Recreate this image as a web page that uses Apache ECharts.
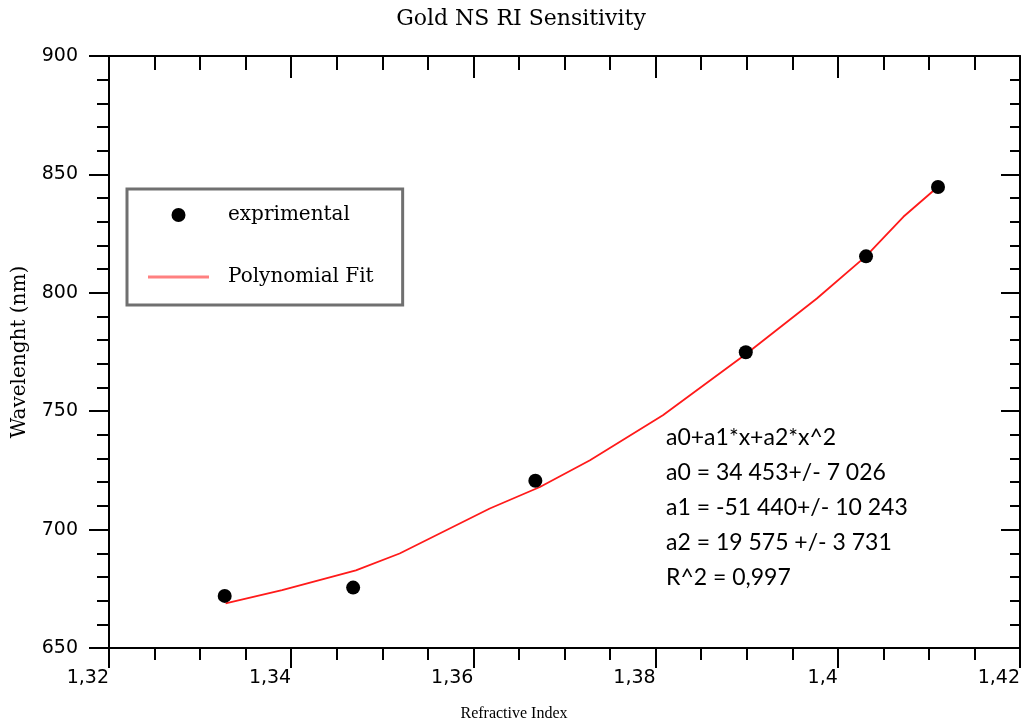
<!DOCTYPE html>
<html>
<head>
<meta charset="utf-8">
<script src="https://cdn.jsdelivr.net/npm/echarts@6/dist/echarts.min.js"></script>
<style>
html,body{margin:0;padding:0;background:#fff;}
#chart{width:1021px;height:725px;}
</style>
</head>
<body>
<div id="chart"></div>
<script>
// ---- data ----
const titleText = 'Gold NS RI Sensitivity';
const xAxisName = 'Refractive Index';
const yAxisName = 'Wavelenght (nm)';
const seriesNames = ['exprimental', 'Polynomial Fit'];

const riExp = [1.3327, 1.3468, 1.3668, 1.3899, 1.4031, 1.4110];
const wlExp = [672.0, 675.5, 720.6, 774.9, 815.4, 844.7];

const riFit = [1.3328, 1.3390, 1.3471, 1.3519, 1.3618, 1.3673, 1.3728, 1.3808, 1.3900, 1.3977, 1.4031, 1.4072, 1.4110];
const wlFit = [668.8, 674.4, 682.8, 689.9, 708.9, 718.0, 729.3, 748.3, 774.4, 797.6, 815.5, 832.1, 844.8];

const xTickValues = [1.32, 1.34, 1.36, 1.38, 1.40, 1.42];
const xTickLabels = ['1,32', '1,34', '1,36', '1,38', '1,4', '1,42'];
const yTickValues = [650, 700, 750, 800, 850, 900];
const yTickLabels = ['650', '700', '750', '800', '850', '900'];

const fitNote = [
  'a0+a1*x+a2*x^2',
  'a0 = 34 453+/- 7 026',
  'a1 = -51 440+/- 10 243',
  'a2 = 19 575 +/- 3 731',
  'R^2 = 0,997'
];

// ---- chart ----
const chart = echarts.init(document.getElementById('chart'), null, {renderer: 'canvas'});

function xLabel(v) {
  let best = 0, bd = Infinity;
  xTickValues.forEach((t, i) => { const d = Math.abs(t - v); if (d < bd) { bd = d; best = i; } });
  return xTickLabels[best];
}
function yLabel(v) {
  const i = yTickValues.indexOf(Math.round(v));
  return i >= 0 ? yTickLabels[i] : '';
}

const axisLine = {show: true, onZero: false, lineStyle: {color: '#000', width: 2}};
const tickFont = {fontFamily: 'DejaVu Sans', fontSize: 19, color: '#000'};

const xBase = {
  type: 'value', min: 1.32, max: 1.42, interval: 0.02,
  axisLine: axisLine, splitLine: {show: false},
  minorTick: {show: true, splitNumber: 4, length: 12, lineStyle: {color: '#000', width: 2}},
  axisTick: {show: true, length: 20, lineStyle: {color: '#000', width: 2}}
};
const yBase = {
  type: 'value', min: 650, max: 900, interval: 50,
  axisLine: axisLine, splitLine: {show: false},
  minorTick: {show: true, splitNumber: 5, length: 12, lineStyle: {color: '#000', width: 2}},
  axisTick: {show: true, length: 20, lineStyle: {color: '#000', width: 2}}
};

const option = {
  backgroundColor: '#fff',
  animation: false,
  grid: {left: 109, right: 1, top: 56, bottom: 77, containLabel: false, outerBoundsMode: 'none'},
  xAxis: [
    Object.assign({}, xBase, {
      position: 'bottom',
      axisLabel: Object.assign({}, tickFont, {align: 'right', margin: 21, formatter: xLabel, showMinLabel: true, showMaxLabel: true, hideOverlap: false})
    }),
    Object.assign({}, xBase, {
      position: 'top',
      axisTick: {show: true, inside: true, length: 22, lineStyle: {color: '#000', width: 2}},
      minorTick: {show: true, splitNumber: 4, length: 14, lineStyle: {color: '#000', width: 2}},
      axisLabel: {show: false}
    })
  ],
  yAxis: [
    Object.assign({}, yBase, {
      position: 'left',
      axisLabel: Object.assign({}, tickFont, {margin: 31, formatter: yLabel, showMinLabel: true, showMaxLabel: true, hideOverlap: false})
    }),
    Object.assign({}, yBase, {
      position: 'right',
      axisTick: {show: true, inside: true, length: 19, lineStyle: {color: '#000', width: 2}},
      minorTick: {show: true, splitNumber: 5, length: 10, lineStyle: {color: '#000', width: 2}},
      axisLabel: {show: false}
    })
  ],
  legend: {
    orient: 'vertical', left: 127, top: 189,
    padding: [16, 29, 18, 21], itemGap: 42,
    itemWidth: 61, itemHeight: 14,
    borderColor: '#707070', borderWidth: 3, borderRadius: 0, backgroundColor: '#fff',
    textStyle: {fontFamily: 'DejaVu Serif', fontSize: 20, color: '#000', padding: [0, 0, 0, 14]},
    data: [
      {name: seriesNames[0], icon: 'circle', itemStyle: {color: '#000', opacity: 1}},
      {name: seriesNames[1], icon: 'path://M0,0 L61,0 L61,3 L0,3 Z', itemStyle: {color: '#ff8080', opacity: 1}}
    ],
    selectedMode: false
  },
  series: [
    {
      name: seriesNames[1], type: 'line', xAxisIndex: 0, yAxisIndex: 0,
      data: riFit.map((x, i) => [x, wlFit[i]]),
      symbol: 'none', showSymbol: false, smooth: false,
      lineStyle: {color: '#ff1a1a', width: 1.8},
      itemStyle: {color: '#ff8080'},
      z: 2
    },
    {
      name: seriesNames[0], type: 'scatter', xAxisIndex: 0, yAxisIndex: 0,
      data: riExp.map((x, i) => [x, wlExp[i]]),
      symbol: 'circle', symbolSize: 14,
      itemStyle: {color: '#000', opacity: 1},
      z: 3
    }
  ],
  graphic: [
    {type: 'text', x: 521, y: 19, style: {text: titleText, align: 'center', verticalAlign: 'middle', font: '22px "DejaVu Serif"', fill: '#000'}},
    {type: 'text', x: 514, y: 714, style: {text: xAxisName, align: 'center', verticalAlign: 'middle', font: '16px "Liberation Serif"', fill: '#000'}},
    {type: 'text', x: 20, y: 352, rotation: Math.PI / 2, style: {text: yAxisName, align: 'center', verticalAlign: 'middle', font: '20px "DejaVu Serif"', fill: '#000'}},
    {type: 'text', x: 666, y: 420, style: {text: fitNote.join('\n'), align: 'left', verticalAlign: 'top', font: '23px Lato', lineHeight: 35, fill: '#000'}}
  ]
};
chart.setOption(option);
</script>
</body>
</html>
